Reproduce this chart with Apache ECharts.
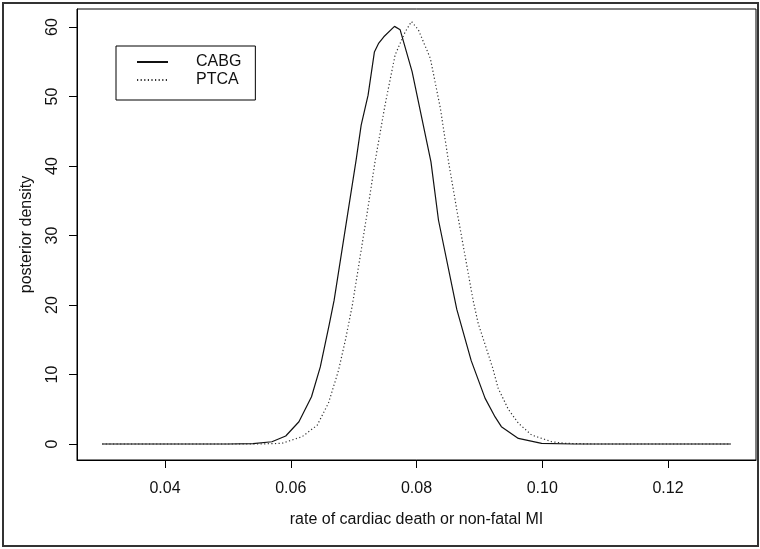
<!DOCTYPE html>
<html>
<head>
<meta charset="utf-8">
<script src="https://cdn.jsdelivr.net/npm/echarts@6/dist/echarts.min.js"></script>
<style>
html,body{margin:0;padding:0;background:#fff;}
#chart{width:760px;height:549px;}
</style>
</head>
<body>
<div id="chart"></div>
<script>
// ---- data ----
var cabgX = [0.030, 0.050, 0.054, 0.0570, 0.0592, 0.0613, 0.0633, 0.0647, 0.0661, 0.0669, 0.0704, 0.0712, 0.0723, 0.0733, 0.0740, 0.0748, 0.0765, 0.0774, 0.0793, 0.0823, 0.0835, 0.0864, 0.0887, 0.0909, 0.0925, 0.0935, 0.0962, 0.0999, 0.105, 0.130];
var cabgY = [0, 0, 0.05, 0.33, 1.15, 3.2, 6.8, 11.1, 17.1, 20.7, 40.9, 45.9, 50.2, 56.4, 57.7, 58.6, 60.1, 59.6, 53.6, 40.6, 32.2, 19.4, 12.0, 6.6, 3.9, 2.5, 0.8, 0.1, 0, 0];
var ptcaX = [0.030, 0.055, 0.0586, 0.0618, 0.0642, 0.0660, 0.0676, 0.0687, 0.0698, 0.0723, 0.0734, 0.0750, 0.0766, 0.0782, 0.0792, 0.0803, 0.0822, 0.0838, 0.0851, 0.0866, 0.0890, 0.0898, 0.0912, 0.0921, 0.0930, 0.0946, 0.0962, 0.0983, 0.1015, 0.1036, 0.108, 0.130];
var ptcaY = [0, 0, 0.1, 1.05, 2.7, 5.9, 10.6, 15.0, 20.0, 34.1, 40.6, 48.8, 56.0, 59.3, 60.8, 59.6, 55.5, 48.3, 40.6, 32.7, 20.7, 17.4, 13.5, 11.0, 8.0, 5.0, 3.0, 1.3, 0.33, 0.1, 0, 0];
var seriesNames = ['CABG', 'PTCA'];
var xTicks = [0.04, 0.06, 0.08, 0.10, 0.12];
var yTicks = [0, 10, 20, 30, 40, 50, 60];
var xTitle = 'rate of cardiac death or non-fatal MI';
var yTitle = 'posterior density';

function zip(xs, ys) { return xs.map(function (x, i) { return [x, ys[i]]; }); }

var FONT = '"Liberation Sans", Arial, sans-serif';
var TXT = '#111';
var FS = 16;

var chart = echarts.init(document.getElementById('chart'), null, {renderer: 'canvas'});
chart.setOption({
  backgroundColor: '#fff',
  animation: false,
  graphic: [{
    type: 'rect',
    shape: {x: 3, y: 3, width: 755, height: 543},
    style: {fill: 'none', stroke: '#333', lineWidth: 2},
    silent: true, z: 0
  }],
  grid: {
    left: 77, top: 9, width: 679, height: 451,
    show: true, borderColor: '#000', borderWidth: 1, backgroundColor: 'transparent'
  },
  legend: {
    orient: 'vertical',
    left: 116, top: 46,
    padding: [8, 14, 12, 20],
    itemWidth: 31, itemHeight: 14, itemGap: 2,
    borderColor: '#000', borderWidth: 1,
    itemStyle: {opacity: 0},
    textStyle: {fontFamily: FONT, fontSize: FS, color: TXT, padding: [0, 0, 0, 23]},
    data: seriesNames
  },
  xAxis: {
    type: 'value', min: 0.026, max: 0.134,
    name: xTitle, nameLocation: 'middle', nameGap: 52,
    nameTextStyle: {fontFamily: FONT, fontSize: FS, color: TXT},
    axisLine: {show: true, onZero: false, lineStyle: {color: '#000', width: 1}},
    axisTick: {show: true, length: 8, lineStyle: {color: '#000'}, customValues: xTicks},
    axisLabel: {
      customValues: xTicks, margin: 21,
      fontFamily: FONT, fontSize: FS, color: TXT,
      formatter: function (v) { return v.toFixed(2); }
    },
    splitLine: {show: false}
  },
  yAxis: {
    type: 'value', min: -2.3, max: 62.6,
    name: yTitle, nameLocation: 'middle', nameGap: 42,
    nameTextStyle: {fontFamily: FONT, fontSize: FS, color: TXT},
    axisLine: {show: true, onZero: false, lineStyle: {color: '#000', width: 1}},
    axisTick: {show: true, length: 8, lineStyle: {color: '#000'}, customValues: yTicks},
    axisLabel: {
      customValues: yTicks, rotate: 90, margin: 16,
      fontFamily: FONT, fontSize: FS, color: TXT
    },
    splitLine: {show: false}
  },
  series: [{
    name: seriesNames[0], type: 'line', data: zip(cabgX, cabgY),
    symbol: 'none', smooth: false,
    lineStyle: {color: '#111', width: 1.2, type: 'solid'},
    itemStyle: {color: '#111'}, z: 3
  }, {
    name: seriesNames[1], type: 'line', data: zip(ptcaX, ptcaY),
    symbol: 'none', smooth: false,
    lineStyle: {color: '#333', width: 1.2, type: [1.2, 2.4]},
    itemStyle: {color: '#333'}, z: 2
  }]
});
</script>
</body>
</html>
